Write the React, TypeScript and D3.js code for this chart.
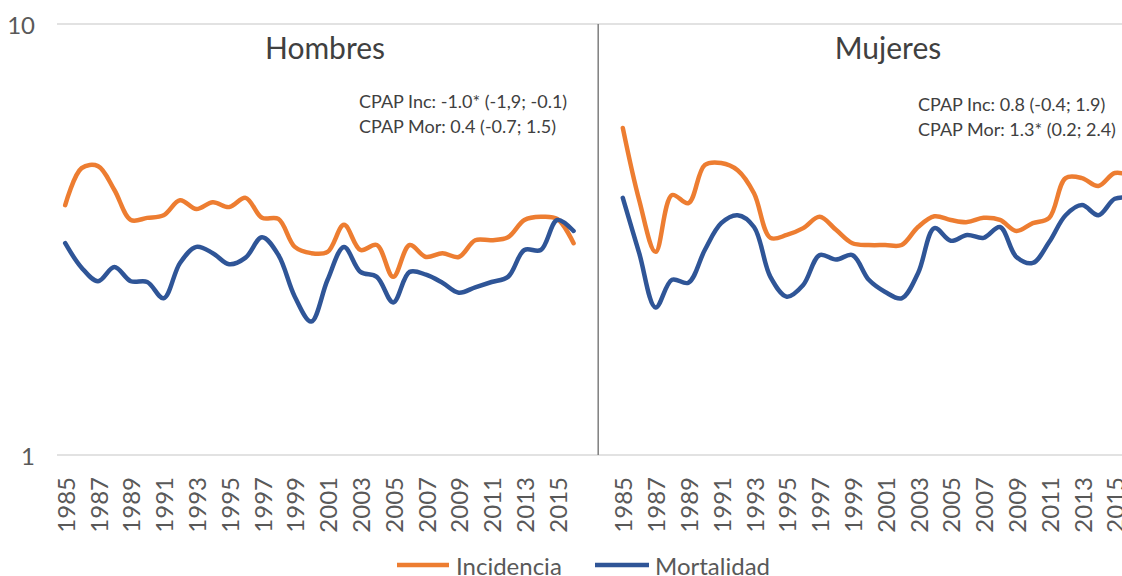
import * as d3 from 'd3';

const years = [
  '1985', '1986', '1987', '1988', '1989', '1990', '1991', '1992',
  '1993', '1994', '1995', '1996', '1997', '1998', '1999', '2000',
  '2001', '2002', '2003', '2004', '2005', '2006', '2007', '2008',
  '2009', '2010', '2011', '2012', '2013', '2014', '2015', '2016',
];

const hombresIncidencia = [
  3.8, 4.63, 4.68, 4.12, 3.51, 3.55, 3.6, 3.9, 3.72, 3.86, 3.76, 3.95,
  3.55, 3.53, 3.04, 2.94, 2.96, 3.42, 2.99, 3.07, 2.59, 3.07, 2.88, 2.94,
  2.88, 3.15, 3.15, 3.2, 3.51, 3.57, 3.53, 3.1,
];
const hombresMortalidad = [
  3.1, 2.72, 2.53, 2.73, 2.53, 2.52, 2.31, 2.79, 3.04, 2.94, 2.77, 2.87,
  3.2, 2.91, 2.33, 2.04, 2.55, 3.04, 2.66, 2.59, 2.26, 2.66, 2.62, 2.51,
  2.38, 2.45, 2.52, 2.59, 2.99, 2.99, 3.51, 3.31,
];
const mujeresIncidencia = [
  5.74, 3.9, 2.96, 4.01, 3.84, 4.71, 4.76, 4.58, 4.05, 3.19, 3.24, 3.36,
  3.57, 3.33, 3.1, 3.07, 3.07, 3.07, 3.38, 3.58, 3.51, 3.47, 3.55, 3.51,
  3.31, 3.45, 3.55, 4.39, 4.39, 4.21, 4.51, 4.44,
];
const mujeresMortalidad = [
  3.95, 2.94, 2.2, 2.55, 2.51, 2.99, 3.45, 3.6, 3.38, 2.59, 2.33, 2.48,
  2.91, 2.84, 2.91, 2.55, 2.39, 2.31, 2.64, 3.36, 3.14, 3.24, 3.19, 3.38,
  2.88, 2.79, 3.12, 3.6, 3.8, 3.6, 3.93, 3.95,
];

const yTicks = [1, 10];

const panels = [
  {
    key: 'H',
    title: 'Hombres',
    inc: hombresIncidencia,
    mor: hombresMortalidad,
    notes: ['CPAP Inc: -1.0* (-1,9; -0.1)', 'CPAP Mor: 0.4 (-0.7; 1.5)'],
  },
  {
    key: 'M',
    title: 'Mujeres',
    inc: mujeresIncidencia,
    mor: mujeresMortalidad,
    notes: ['CPAP Inc: 0.8 (-0.4; 1.9)', 'CPAP Mor: 1.3* (0.2; 2.4)'],
  },
];

const ORANGE = '#ED7D31';
const BLUE = '#2F5597';
const TEXT = '#595959';
const FONT = 'Lato, "Open Sans", sans-serif';

// one category axis: hombres years, two empty slots, mujeres years
const categories = [
  ...years.map((y) => `H${y}`),
  'gap1',
  'gap2',
  ...years.map((y) => `M${y}`),
];

export default function App() {
  const width = 1122,
    height = 576;
  const left = 57,
    top = 24,
    bottom = 455;
  const step = 16.4;

  const x = d3
    .scaleBand()
    .domain(categories)
    .range([left, left + categories.length * step]);
  const y = d3.scaleLog().domain([1, 10]).range([bottom, top]);
  const bw = x.bandwidth();

  const cx = (key: string) => (x(key) ?? 0) + bw / 2;

  const makeLine = (key: string) =>
    d3
      .line<number>()
      .x((_, i) => cx(key + years[i]))
      .y((d) => y(d))
      .curve(d3.curveCatmullRom.alpha(0.5));

  const divider = (x('gap2') ?? 0);

  // title / note positions (placed text boxes in the original)
  const titleX = [325, 888];
  const noteX = [359, 918];
  const noteY = [101, 104];

  return (
    <svg
      width={width}
      height={height}
      style={{ position: 'absolute', left: 0, top: 0, background: '#fff' }}
      fontFamily={FONT}
    >
      {/* grid */}
      {yTicks.map((t) => (
        <g key={t}>
          <line
            x1={left}
            x2={width}
            y1={y(t)}
            y2={y(t)}
            stroke="#d9d9d9"
            strokeWidth={1.5}
          />
          <text
            x={35}
            y={y(t)}
            textAnchor="end"
            dominantBaseline="central"
            fontSize={24}
            fill={TEXT}
          >
            {t}
          </text>
        </g>
      ))}

      {/* panel divider */}
      <line
        x1={divider}
        x2={divider}
        y1={top}
        y2={bottom}
        stroke="#7f7f7f"
        strokeWidth={1.5}
      />

      {panels.map((p, pi) => (
        <g key={p.key}>
          <text
            x={titleX[pi]}
            y={47}
            textAnchor="middle"
            dominantBaseline="central"
            fontSize={30}
            fill="#404040"
          >
            {p.title}
          </text>
          {p.notes.map((n, ni) => (
            <text
              key={n}
              x={noteX[pi]}
              y={noteY[pi] + ni * 25}
              dominantBaseline="central"
              fontSize={18}
              fill="#404040"
            >
              {n}
            </text>
          ))}
          <path
            d={makeLine(p.key)(p.inc) ?? ''}
            fill="none"
            stroke={ORANGE}
            strokeWidth={4.5}
            strokeLinejoin="round"
            strokeLinecap="round"
          />
          <path
            d={makeLine(p.key)(p.mor) ?? ''}
            fill="none"
            stroke={BLUE}
            strokeWidth={4.5}
            strokeLinejoin="round"
            strokeLinecap="round"
          />
          {years
            .filter((_, i) => i % 2 === 0)
            .map((yr) => (
              <text
                key={yr}
                transform={`translate(${cx(p.key + yr)},477) rotate(-90)`}
                textAnchor="end"
                dominantBaseline="central"
                fontSize={24}
                fill={TEXT}
              >
                {yr}
              </text>
            ))}
        </g>
      ))}

      {/* legend */}
      <g>
        <line x1={397} x2={449} y1={565} y2={565} stroke={ORANGE} strokeWidth={4.5} />
        <text x={456} y={565} dominantBaseline="central" fontSize={24} fill={TEXT}>
          Incidencia
        </text>
        <line x1={595} x2={649} y1={565} y2={565} stroke={BLUE} strokeWidth={4.5} />
        <text x={655} y={565} dominantBaseline="central" fontSize={24} fill={TEXT}>
          Mortalidad
        </text>
      </g>
    </svg>
  );
}
